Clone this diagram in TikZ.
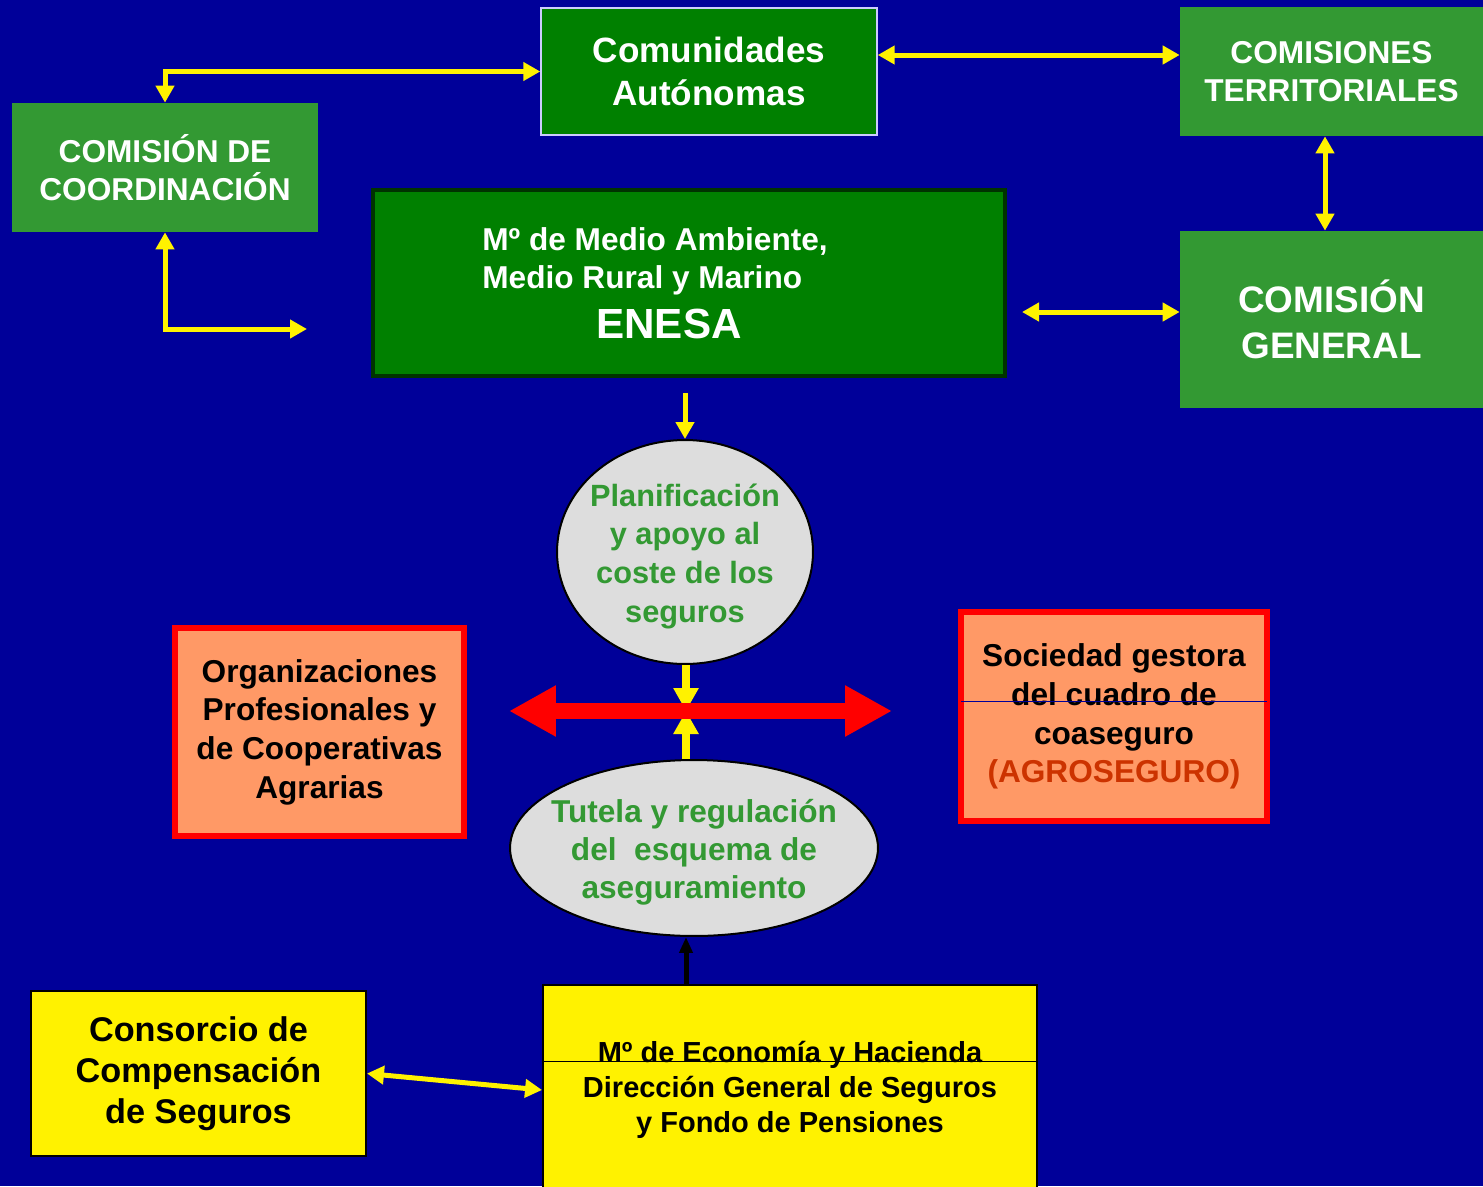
\documentclass[tikz,border=0pt]{standalone}
\usepackage{fontspec}
\setmainfont{Liberation Sans}
\usetikzlibrary{arrows.meta,shapes.geometric}
\definecolor{fondo}{RGB}{0,0,153}
\definecolor{verde}{RGB}{0,128,0}
\definecolor{verdeclaro}{RGB}{51,153,51}
\definecolor{verdeosc}{RGB}{0,51,0}
\definecolor{salmon}{RGB}{255,153,102}
\definecolor{gris}{RGB}{221,221,221}
\definecolor{lila}{RGB}{204,204,255}
\definecolor{teja}{RGB}{204,51,0}
\newcommand{\tamano}[2]{\fontsize{#1}{#2}\selectfont}

\begin{document}
\begin{tikzpicture}[x=0.02cm, y=-0.02cm,
  verdebox/.style={rectangle, fill=verdeclaro, text=white, inner sep=0pt, align=center},
  salbox/.style={rectangle, fill=salmon, draw=red, line width=0.11cm, inner sep=0pt, align=center},
  amabox/.style={rectangle, fill=yellow, draw=black, line width=0.04cm, inner sep=0pt, align=center},
  elipse/.style={ellipse, fill=gris, draw=black, line width=0.04cm, inner sep=0pt},
  elipsetxt/.style={inner sep=0pt, align=center, text=verdeclaro},
  flecha/.style={draw=yellow, line width=0.1cm, >={Triangle[length=0.34cm,width=0.36cm]}},
  flechac/.style={draw=yellow, line width=0.16cm, >={Triangle[length=0.46cm,width=0.48cm]}},
  rojo/.style={draw=red, line width=0.32cm, >={Triangle[length=0.94cm,width=0.96cm]}},
  negra/.style={draw=black, line width=0.1cm, >={Triangle[length=0.32cm,width=0.26cm]}}]

\fill[fondo] (0,0) rectangle (1483,1186);
\clip (0,0) rectangle (1483,1186);

% top row
\node[rectangle, fill=verde, draw=lila, line width=0.03cm, text=white, inner sep=0pt,
  align=center, minimum width=6.72cm, minimum height=2.54cm,
  font=\bfseries\tamano{20}{24}] (autonom) at (709,71.5) {Comunidades\\Autónomas};
\node[verdebox, minimum width=6.12cm, minimum height=2.58cm,
  font=\bfseries\tamano{18}{21.5}] (coord) at (165,167.5) {COMISIÓN DE\\COORDINACIÓN};
\node[verdebox, minimum width=6.06cm, minimum height=2.58cm,
  font=\bfseries\tamano{18}{21.5}] (territ) at (1331.5,71.5) {COMISIONES\\TERRITORIALES};
\node[verdebox, minimum width=6.06cm, minimum height=3.54cm,
  font=\bfseries\tamano{21}{26}] (general) at (1331.5,319.5) {COMISIÓN\\GENERAL};

% ENESA
\node[rectangle, fill=verde, draw=verdeosc, line width=0.08cm,
  minimum width=12.64cm, minimum height=3.72cm] (enesa) at (689,283) {};
\node[anchor=base west, inner sep=0pt, text=white, font=\bfseries\tamano{18}{21.5}]
  (enesaA) at (482,250) {Mº de Medio Ambiente,};
\node[anchor=base west, inner sep=0pt, text=white, font=\bfseries\tamano{18}{21.5}]
  (enesaB) at (482,288) {Medio Rural y Marino};
\node[anchor=base, inner sep=0pt, text=white, font=\bfseries\tamano{24}{28}]
  (enesaC) at (669,338) {ENESA};

% middle
\node[elipse, minimum width=5.12cm, minimum height=4.48cm] (plan) at (685,552) {};
\node[elipsetxt, font=\bfseries\tamano{17.5}{22}] (plantxt) at (685,556)
  {Planificación\\y apoyo al\\coste de los\\seguros};
\node[elipse, minimum width=7.36cm, minimum height=3.52cm] (tutela) at (694,848) {};
\node[elipsetxt, font=\bfseries\tamano{18}{21.5}] (tutelatxt) at (694,852)
  {Tutela y regulación\\del\ \ esquema de\\aseguramiento};
\node[salbox, minimum width=5.78cm, minimum height=4.16cm,
  font=\bfseries\tamano{18}{22}] (orgs) at (319.5,732)
  {Organizaciones\\Profesionales y\\de Cooperativas\\Agrarias};
\node[salbox, minimum width=6.12cm, minimum height=4.18cm,
  font=\bfseries\tamano{18}{22}] (socied) at (1114,716.5)
  {Sociedad gestora\\del cuadro de\\coaseguro\\{\color{teja}(AGROSEGURO)}};

% bottom
\node[amabox, minimum width=6.7cm, minimum height=3.3cm,
  font=\bfseries\tamano{19.5}{23.5}] (consor) at (198.5,1073.5)
  {Consorcio de\\Compensación\\de Seguros};
\node[amabox, minimum width=9.88cm, minimum height=4.2cm,
  font=\bfseries\tamano{16.5}{19.8}] (econ) at (790,1090)
  {Mº de Economía y Hacienda\\Dirección General de Seguros\\y Fondo de Pensiones};

\draw[fondo, line width=0.02cm, shorten <=0.06cm, shorten >=0.06cm]
  (socied.west |- 0,701) -- (socied.east |- 0,701);
\draw[black, line width=0.02cm] (econ.west |- 0,1061) -- (econ.east |- 0,1061);

% connectors
\coordinate (coordfin) at (307,329);
\coordinate (enesafin) at (1022,312);
\coordinate (cruce) at (686,711);
\coordinate (rojoizq) at (509,711);
\coordinate (rojoder) at (892,711);

\draw[flecha,<->] (coord.north) |- (autonom.west);
\draw[flecha,<->] (coord.south) |- (coordfin);
\draw[flecha,<->] ([yshift=0.33cm]autonom.east) -- ([yshift=0.33cm]territ.west);
\draw[flecha,<->] ([xshift=-0.13cm]territ.south) -- ([xshift=-0.13cm]general.north);
\draw[flecha,<->] (enesafin) -- (enesafin -| general.west);
\draw[flecha,->] ([yshift=-0.3cm]enesa.south -| plan.north) -- (plan.north);

\draw[flechac,->] (plan.south -| cruce) -- (cruce);
\draw[flechac,->] (tutela.north -| cruce) -- (cruce);
\draw[rojo,<->] (rojoizq) -- (rojoder);

\draw[negra,->] (econ.north -| cruce) -- (tutela.south -| cruce);
\draw[flecha,<->] (consor.east) -- (econ.west);

\end{tikzpicture}
\end{document}
